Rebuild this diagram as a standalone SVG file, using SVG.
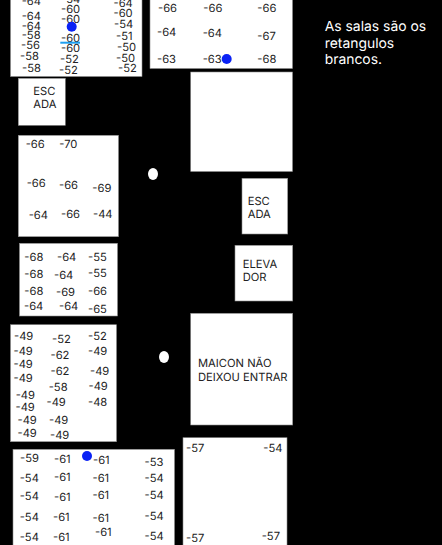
<svg xmlns="http://www.w3.org/2000/svg" width="442" height="545" viewBox="0 0 442 545">
<style>
text{font-family:Inter,"Liberation Sans",sans-serif;font-size:11.2px;fill:#222;text-rendering:geometricPrecision}
.r{fill:#fff;stroke:#8c8c8c;stroke-width:.6}
.b{fill:#0a22f5}
.w{fill:#fff}
.n{font-size:13.9px;fill:#fff}
</style>
<rect width="442" height="545" fill="#000"/>
<g id="room-a"><rect class="r" x="10.5" y="-2" width="131.5" height="78.5"/>
<text x="21.7" y="5">-64</text><text x="61" y="3">-54</text><text x="61" y="13">-60</text><text x="61" y="22.7">-60</text><text x="113.5" y="7">-64</text><text x="113.5" y="16.7">-60</text>
<text x="21.7" y="20">-64</text><text x="21.7" y="30">-64</text><text x="21.7" y="38.7">-58</text><text x="21" y="48.7">-56</text><text x="20" y="60">-58</text><text x="22" y="72">-58</text>
<text x="61" y="42">-60</text><text x="61" y="52.3">-60</text><text x="60" y="62.7">-52</text><text x="59" y="74">-52</text>
<text x="114" y="28">-54</text><text x="116" y="40">-51</text><text x="117" y="51">-50</text><text x="116" y="61.7">-50</text><text x="118" y="71.7">-52</text>
<line x1="60.3" y1="42.7" x2="80" y2="42.7" stroke="#1fa0f0" stroke-width="2"/>
<circle class="b" cx="71.7" cy="26.7" r="5"/></g>
<g id="room-b"><rect class="r" x="150" y="-2" width="142.5" height="70.5"/>
<text x="158" y="11.7">-66</text><text x="203.3" y="12">-66</text><text x="257.3" y="11.5">-66</text>
<text x="157" y="36">-64</text><text x="202.7" y="37.3">-64</text><text x="257.3" y="40">-67</text>
<text x="157" y="62.7">-63</text><text x="202.7" y="62.7">-63</text><text x="257.3" y="62.7">-68</text>
<circle class="b" cx="226.7" cy="59" r="5"/></g>
<g id="room-c"><rect class="r" x="190.7" y="72" width="101.8" height="99.5"/></g>
<g id="escada-a"><rect class="r" x="18.3" y="78.3" width="47" height="47"/>
<text x="33.3" y="94.7">ESC</text><text x="33.3" y="107.7">ADA</text></g>
<g id="room-d"><rect class="r" x="18.3" y="135.3" width="100.2" height="101.4"/>
<text x="25.7" y="147.7">-66</text><text x="59.3" y="148.3">-70</text>
<text x="26.7" y="187">-66</text><text x="59" y="189">-66</text><text x="92.3" y="192">-69</text>
<text x="28.7" y="218.7">-64</text><text x="61" y="218">-66</text><text x="93" y="218">-44</text></g>
<g id="room-e"><rect class="r" x="19.5" y="243.3" width="98" height="72.7"/>
<text x="24.3" y="260.7">-68</text><text x="57" y="260.7">-64</text><text x="88" y="260.7">-55</text>
<text x="24.3" y="277.7">-68</text><text x="54" y="278.7">-64</text><text x="88" y="277">-55</text>
<text x="24.3" y="295">-68</text><text x="56" y="296.3">-69</text><text x="88" y="294.7">-66</text>
<text x="24" y="310">-64</text><text x="59" y="310.3">-64</text><text x="88" y="312.7">-65</text></g>
<g id="room-f"><rect class="r" x="10.5" y="324.7" width="106" height="117"/>
<text x="14" y="340">-49</text><text x="52" y="342.7">-52</text><text x="88" y="340">-52</text>
<text x="13.5" y="354.7">-49</text><text x="50.5" y="358.7">-62</text><text x="88" y="355.3">-49</text>
<text x="13.5" y="367.7">-49</text><text x="13.5" y="382">-49</text><text x="50.5" y="375.3">-62</text><text x="90" y="374.7">-49</text>
<text x="48.7" y="390.7">-58</text><text x="88.5" y="389.7">-49</text>
<text x="15.7" y="398.7">-49</text><text x="15.5" y="410.7">-49</text><text x="46.5" y="405.7">-49</text><text x="88" y="405.7">-48</text>
<text x="17.5" y="424.3">-49</text><text x="49" y="424">-49</text><text x="17.5" y="437">-49</text><text x="50" y="438.7">-49</text></g>
<g id="room-g"><rect class="r" x="13" y="449.3" width="161.5" height="98"/>
<text x="20" y="462">-59</text><text x="54" y="463">-61</text><text x="93" y="464.3">-61</text><text x="144.5" y="465.7">-53</text>
<text x="19.7" y="482">-54</text><text x="54" y="481">-61</text><text x="92.5" y="482">-61</text><text x="144.5" y="482">-54</text>
<text x="19.7" y="500">-54</text><text x="54" y="500.7">-61</text><text x="92.5" y="499.3">-61</text><text x="144.5" y="499.3">-54</text>
<text x="19.7" y="521">-54</text><text x="53" y="521">-61</text><text x="92.5" y="521.7">-61</text><text x="144.5" y="519.7">-54</text>
<text x="19.7" y="541.3">-54</text><text x="53" y="541">-61</text><text x="95" y="536.3">-61</text><text x="144.5" y="539.7">-54</text>
<circle class="b" cx="87" cy="456" r="5"/></g>
<g id="escada-b"><rect class="r" x="242" y="178.3" width="45.7" height="55.7"/>
<text x="247.7" y="205">ESC</text><text x="247.7" y="218.3">ADA</text></g>
<g id="elevador"><rect class="r" x="235" y="245.3" width="57.7" height="55.7"/>
<text x="242.7" y="268.3">ELEVA</text><text x="242.7" y="281">DOR</text></g>
<g id="maicon"><rect class="r" x="190.7" y="313.3" width="102" height="111.7"/>
<text x="198" y="366.7">MAICON NÃO</text><text x="198" y="381">DEIXOU ENTRAR</text></g>
<g id="room-h"><rect class="r" x="183" y="437.7" width="104" height="110"/>
<text x="186" y="452.3">-57</text><text x="263.3" y="452">-54</text><text x="186" y="542.3">-57</text><text x="261.7" y="540">-57</text></g>
<g id="dot-1"><ellipse class="w" cx="153" cy="174" rx="5" ry="6"/></g>
<g id="dot-2"><ellipse class="w" cx="164" cy="357" rx="5" ry="6"/></g>
<g id="note"><text class="n" x="324.7" y="31">As salas são os</text><text class="n" x="324.7" y="47.7">retangulos</text><text class="n" x="324.7" y="64.3">brancos.</text></g>
<g id="connectors"/>
</svg>
